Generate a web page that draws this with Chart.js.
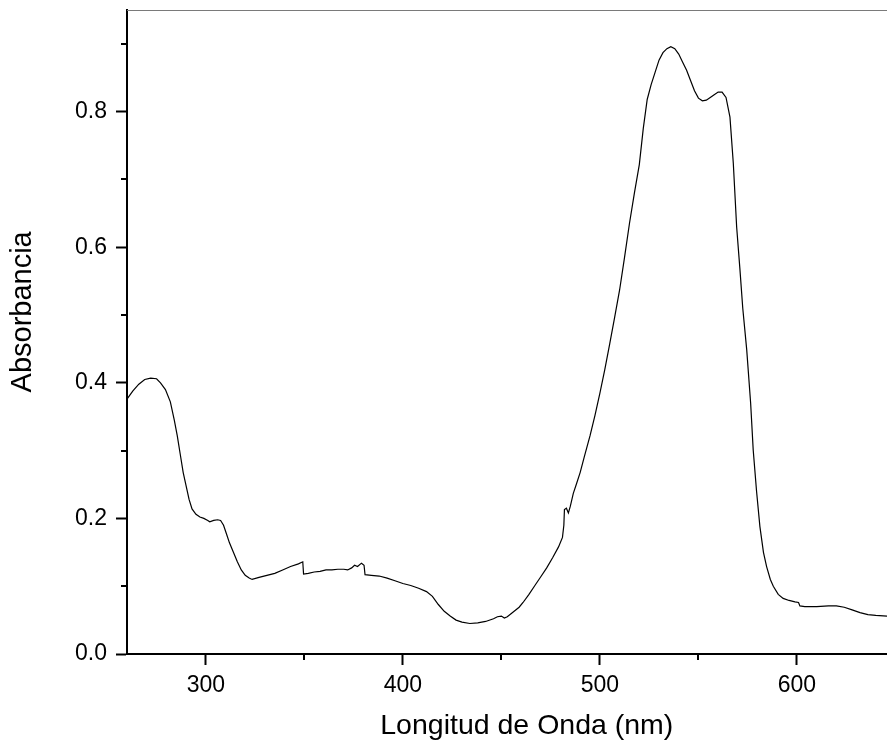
<!DOCTYPE html>
<html>
<head>
<meta charset="utf-8">
<script src="https://cdn.jsdelivr.net/npm/chart.js@4/dist/chart.umd.min.js"></script>
<style>
  html, body { margin: 0; padding: 0; background: #fff; overflow: hidden; }
  canvas { display: block; }
</style>
</head>
<body>
<canvas id="c" width="887" height="750"></canvas>
<script>
const wavelengths = [
  260, 263, 266, 269, 272, 275, 277, 279.5, 282, 284, 285.5, 287, 288.5, 290, 291.5, 293, 295, 297, 299, 301, 302, 304, 306, 307.5,
  309, 310.5, 312, 314, 316, 318, 320, 322, 323.5, 327, 331, 335, 339, 343, 347, 349.2, 349.6, 352, 355, 358, 361, 364, 367, 370,
  372, 374, 375.5, 377, 379, 380.3, 380.8, 384, 388, 392, 396, 400, 404, 408, 412, 415, 418, 421, 424, 427, 430, 434, 438, 442,
  446, 448, 450, 451.5, 453, 456, 459, 461, 464, 467, 470, 473, 476, 479, 481, 481.7, 482, 483, 484, 485, 486.5, 488, 490, 492,
  495, 497.5, 500, 502.5, 505, 507.5, 510, 512.5, 515, 517.5, 520, 522, 524, 526, 528, 530, 532, 534, 536, 538, 540, 542, 544,
  546, 548, 550, 552, 554, 556, 558, 560, 562, 564, 566, 567.7, 569.4, 571, 572.5, 574.5, 576.5, 577.8, 579.5, 581.2, 583, 584.6,
  586.5, 588, 590.5, 593, 596, 599, 600.8, 601.5, 604, 610, 616, 620, 624, 628, 632, 636, 640, 645.7
];
const absorbance = [
  0.376, 0.388, 0.398, 0.405, 0.407, 0.406, 0.400, 0.390, 0.372, 0.345, 0.322, 0.295, 0.268, 0.248, 0.228, 0.214, 0.206, 0.202, 0.200, 0.197, 0.195, 0.197, 0.198, 0.197,
  0.190, 0.177, 0.164, 0.150, 0.136, 0.124, 0.116, 0.112, 0.110, 0.113, 0.116, 0.119, 0.124, 0.129, 0.133, 0.136, 0.118, 0.119, 0.121, 0.122, 0.124, 0.124, 0.125, 0.125,
  0.124, 0.127, 0.131, 0.129, 0.134, 0.131, 0.117, 0.116, 0.115, 0.112, 0.108, 0.104, 0.101, 0.097, 0.092, 0.085, 0.073, 0.063, 0.056, 0.050, 0.047, 0.045, 0.046, 0.048,
  0.052, 0.055, 0.056, 0.053, 0.055, 0.062, 0.069, 0.076, 0.088, 0.101, 0.114, 0.127, 0.142, 0.158, 0.172, 0.190, 0.213, 0.215, 0.208, 0.218, 0.237, 0.250, 0.268, 0.290,
  0.322, 0.352, 0.385, 0.420, 0.458, 0.497, 0.537, 0.585, 0.635, 0.680, 0.722, 0.775, 0.818, 0.840, 0.858, 0.876, 0.887, 0.893, 0.896, 0.893, 0.885, 0.873, 0.861,
  0.846, 0.831, 0.820, 0.816, 0.817, 0.821, 0.825, 0.829, 0.829, 0.821, 0.792, 0.724, 0.630, 0.570, 0.510, 0.449, 0.370, 0.301, 0.240, 0.188, 0.150, 0.129,
  0.110, 0.100, 0.088, 0.082, 0.079, 0.077, 0.076, 0.071, 0.070, 0.070, 0.071, 0.071, 0.069, 0.065, 0.061, 0.058, 0.057, 0.056
];
const xMajorTicks = [300, 400, 500, 600];
const xMinorTicks = [350, 450, 550];
const yMajorTicks = [0.0, 0.2, 0.4, 0.6, 0.8];
const yMinorTicks = [0.1, 0.3, 0.5, 0.7, 0.9];
const xTitle = 'Longitud de Onda (nm)';
const yTitle = 'Absorbancia';

const FONT = '"Liberation Sans", Arial, sans-serif';

const extrasPlugin = {
  id: 'extras',
  afterDraw(chart) {
    const ctx = chart.ctx;
    const area = chart.chartArea;
    const xs = chart.scales.x, ys = chart.scales.y;
    ctx.save();
    // top frame line
    ctx.strokeStyle = '#7a7a7a';
    ctx.lineWidth = 1;
    ctx.beginPath();
    ctx.moveTo(area.left, Math.round(area.top) + 0.5);
    ctx.lineTo(area.right, Math.round(area.top) + 0.5);
    ctx.stroke();
    // minor ticks
    ctx.strokeStyle = '#000';
    ctx.lineWidth = 2;
    xMinorTicks.forEach(v => {
      const px = Math.round(xs.getPixelForValue(v));
      ctx.beginPath();
      ctx.moveTo(px, area.bottom);
      ctx.lineTo(px, area.bottom + 6);
      ctx.stroke();
    });
    yMinorTicks.forEach(v => {
      const py = Math.round(ys.getPixelForValue(v));
      ctx.beginPath();
      ctx.moveTo(area.left, py);
      ctx.lineTo(area.left - 6, py);
      ctx.stroke();
    });
    ctx.restore();
  }
};

new Chart(document.getElementById('c'), {
  type: 'line',
  data: {
    datasets: [{
      data: wavelengths.map((w, i) => ({ x: w, y: absorbance[i] })),
      borderColor: '#000',
      borderWidth: 1.2,
      pointRadius: 0,
      tension: 0,
      fill: false
    }]
  },
  options: {
    responsive: false,
    animation: false,
    devicePixelRatio: 1,
    layout: { padding: { top: 10, right: 0, left: 0, bottom: 0 } },
    plugins: { legend: { display: false }, tooltip: { enabled: false } },
    scales: {
      x: {
        type: 'linear',
        min: 260,
        max: 645.7,
        afterBuildTicks: s => { s.ticks = xMajorTicks.map(v => ({ value: v })); },
        afterFit: s => { s.height = 96; s.paddingLeft = 0; s.paddingRight = 0; },
        ticks: {
          color: '#000',
          font: { family: FONT, size: 23 },
          padding: 7,
          maxRotation: 0,
          autoSkip: false,
          callback: v => String(v)
        },
        grid: { drawOnChartArea: false, drawTicks: true, tickLength: 11, tickWidth: 2, tickColor: '#000' },
        border: { display: true, color: '#000', width: 2 },
        title: {
          display: true,
          text: '     ' + xTitle,
          color: '#000',
          font: { family: FONT, size: 28.5 },
          padding: { top: 0, bottom: 7 }
        }
      },
      y: {
        type: 'linear',
        min: 0,
        max: 0.95,
        afterBuildTicks: s => { s.ticks = yMajorTicks.map(v => ({ value: v })); },
        afterFit: s => { s.width = 127; s.paddingTop = 0; s.paddingBottom = 0; },
        ticks: {
          color: '#000',
          font: { family: FONT, size: 23 },
          padding: 9,
          autoSkip: false,
          callback: v => Number(v).toFixed(1)
        },
        grid: { drawOnChartArea: false, drawTicks: true, tickLength: 11, tickWidth: 2, tickColor: '#000' },
        border: { display: true, color: '#000', width: 2 },
        title: {
          display: true,
          text: '     ' + yTitle,
          color: '#000',
          font: { family: FONT, size: 29 },
          padding: { top: 6, bottom: 0 }
        }
      }
    }
  },
  plugins: [extrasPlugin]
});
</script>
</body>
</html>
